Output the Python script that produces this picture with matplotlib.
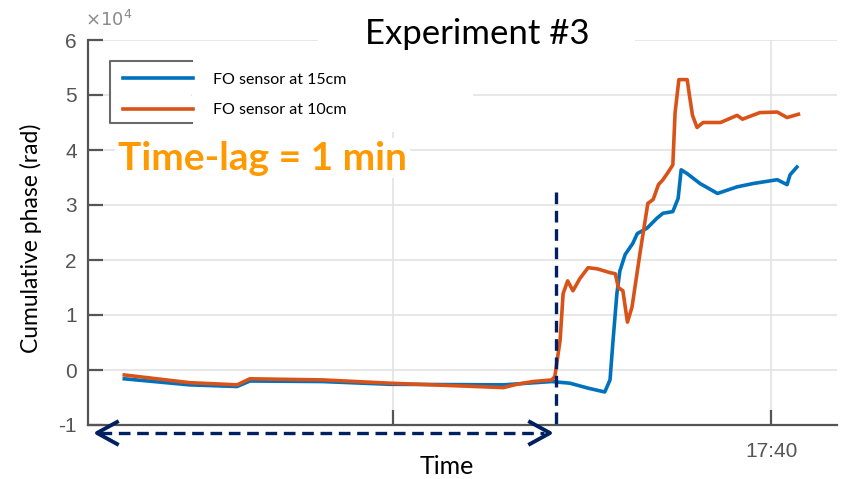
import matplotlib
matplotlib.use("Agg")
import matplotlib.pyplot as plt
import matplotlib.transforms as mtransforms
from matplotlib.lines import Line2D
from matplotlib.patches import Rectangle

# time in minutes after 17:00, phase in rad
orange_t = [31.45, 32.31, 32.94, 33.11, 34.07, 34.96, 36.46, 36.64, 36.85, 37.10,
            37.14, 37.21, 37.25, 37.31, 37.38, 37.47, 37.58, 37.70, 37.87, 37.94,
            37.98, 38.04, 38.10, 38.16, 38.27, 38.37, 38.44, 38.51, 38.57, 38.64,
            38.70, 38.73, 38.78, 38.89, 38.92, 38.96, 39.02, 39.10, 39.33, 39.55,
            39.62, 39.85, 40.08, 40.21, 40.36]
orange_y = [-900, -2300, -2700, -1600, -1800, -2400, -3200, -2600, -2100, -1800,
            -1200, 5400, 13900, 16200, 14400, 16600, 18600, 18400, 17700, 17500,
            15000, 14400, 8700, 11400, 21600, 30300, 31000, 33700, 34600, 36000,
            37300, 46800, 52800, 52800, 49900, 46300, 44100, 45000, 45000, 46300,
            45600, 46800, 46900, 45900, 46500]

blue_t = [31.45, 32.31, 32.94, 33.11, 34.07, 34.96, 36.46, 37.10, 37.34, 37.58,
          37.80, 37.87, 37.91, 37.96, 38.00, 38.07, 38.17, 38.23, 38.36, 38.49,
          38.57, 38.70, 38.77, 38.81, 38.89, 39.06, 39.29, 39.55, 39.76, 40.08,
          40.21, 40.25, 40.34]
blue_y = [-1600, -2700, -3000, -2000, -2100, -2600, -2700, -2100, -2400, -3300,
          -4000, -1800, 5400, 13800, 18000, 21000, 23000, 24800, 25800, 27600,
          28500, 28800, 31200, 36400, 35700, 33900, 32100, 33300, 33900, 34600,
          33700, 35500, 36900]

labels = ["FO sensor at 15cm", "FO sensor at 10cm"]
yticks = [-10000, 0, 10000, 20000, 30000, 40000, 50000, 60000]
ytick_labels = ["-1", "0", "1", "2", "3", "4", "5", "6"]
xticks = [35, 40]
xtick_labels = ["", "17:40"]
lag_start = 37.156  # where the orange trace takes off

blue = "#0072BD"
orange = "#D95319"
navy = "#002060"
grey = "#555555"

W, H = 844, 479
fig = plt.figure(figsize=(W / 100, H / 100), dpi=100)
# helper: pixel coords (origin top-left) -> figure
px = mtransforms.Affine2D().scale(1 / W, -1 / H).translate(0, 1) + fig.transFigure

ax = fig.add_axes([88 / W, 1 - 425 / H, (837 - 88) / W, (425 - 40) / H])
ax.plot(blue_t, blue_y, color=blue, lw=2.6, label=labels[0], solid_joinstyle="round")
ax.plot(orange_t, orange_y, color=orange, lw=2.6, label=labels[1], solid_joinstyle="round")

ax.set_xlim(30.97, 40.87)
ax.set_ylim(-10000, 60000)
ax.set_yticks(yticks)
ax.set_yticklabels(ytick_labels)
ax.set_xticks(xticks)
ax.set_xticklabels(xtick_labels)
ax.grid(True, color="#e3e3e3", lw=1.2)
ax.set_axisbelow(True)
for s in ["top", "right"]:
    ax.spines[s].set_visible(False)
for s in ["left", "bottom"]:
    ax.spines[s].set_color(grey)
    ax.spines[s].set_linewidth(1.6)
ax.tick_params(direction="in", length=11, width=1.6, color=grey,
               labelcolor=grey, labelsize=15)
ax.tick_params(axis="y", pad=8)
ax.tick_params(axis="x", pad=12)
for lab in ax.get_xticklabels() + ax.get_yticklabels():
    lab.set_family("Liberation Sans")

# dashed marker at the orange take-off
ax.plot([lag_start, lag_start], [32400, -10000], color=navy, lw=2.4,
        ls=(0, (3.5, 2)), clip_on=False, zorder=5)

# white patches pasted over the plot (title + legend area)
fig.add_artist(Rectangle((318, 0), 317, 52, transform=px, facecolor="white",
                         edgecolor="none", zorder=5))
fig.add_artist(Rectangle((192, 50), 281, 82, transform=px, facecolor="white",
                         edgecolor="none", zorder=5))
fig.add_artist(Rectangle((111, 62), 80, 60, transform=px, facecolor="white",
                         edgecolor="none", zorder=5))
# partial legend frame
fig.add_artist(Line2D([192, 110, 110, 192], [61, 61, 123, 123], transform=px,
                      color="#6a6a6a", lw=1.5, zorder=6))

h, l = ax.get_legend_handles_labels()
leg = fig.legend(h, l, loc="upper left", bbox_to_anchor=(110 / W, 1 - 60 / H),
                 frameon=False, handlelength=4.4, handletextpad=1.25,
                 labelspacing=1.0, borderpad=0.3,
                 prop={"family": "Lato", "size": 11.5})
leg.set_zorder(7)

fig.text(477 / W, 1 - 34 / H, "Experiment #3", ha="center", va="center",
         fontsize=25, family="Lato", zorder=8)
fig.text(118 / W, 1 - 158 / H, "Time-lag = 1 min", ha="left", va="center",
         fontsize=28, family="Lato", fontweight="bold", color="#FF9900",
         zorder=8, bbox=dict(facecolor="white", edgecolor="none", pad=2))
fig.text(31 / W, 1 - 238 / H, "Cumulative phase (rad)", rotation=90,
         ha="center", va="center", fontsize=16.5, family="Lato")
fig.text(447 / W, 1 - 466 / H, "Time", ha="center", va="center",
         fontsize=18, family="Lato")
fig.text(85 / W, 1 - 20 / H, r"$\times10^{4}$", ha="left", va="center",
         fontsize=13, color="#8a8a8a")

# dashed double arrow under the axis
fig.add_artist(Line2D([100, 544], [433, 433], transform=px, color=navy,
                      lw=2.4, ls=(0, (3.5, 2)), zorder=6))
fig.add_artist(Line2D([117, 97, 117], [422, 433, 444], transform=px,
                      color=navy, lw=2.8, zorder=6))
fig.add_artist(Line2D([530, 550, 530], [422, 433, 444], transform=px,
                      color=navy, lw=2.8, zorder=6))

fig.savefig("out.png", dpi=100)
